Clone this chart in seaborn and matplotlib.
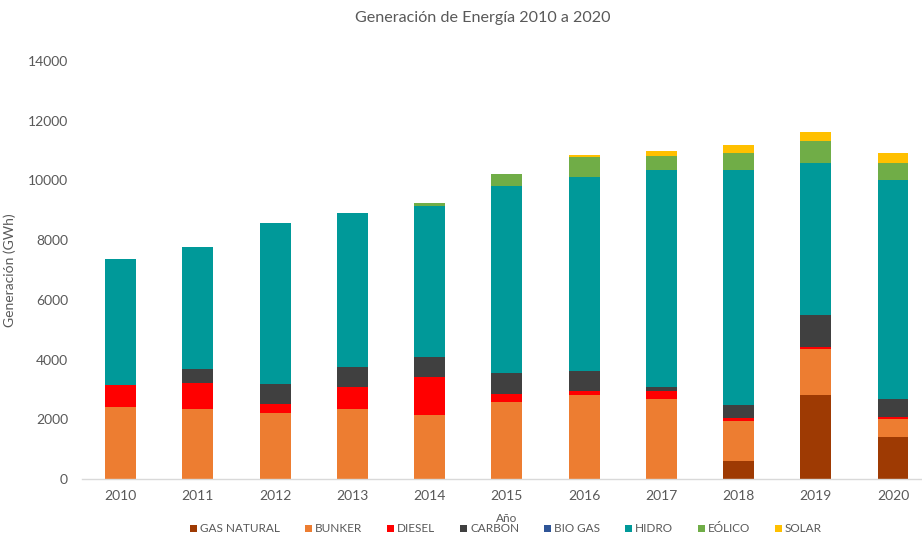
import matplotlib
matplotlib.use("Agg")
import matplotlib.pyplot as plt
import seaborn as sns
import numpy as np
import pandas as pd

years = ["2010", "2011", "2012", "2013", "2014", "2015", "2016", "2017", "2018", "2019", "2020"]
gas_natural = [0, 0, 0, 0, 0, 0, 0, 0, 610, 2800, 1400]
bunker = [2420, 2330, 2200, 2350, 2130, 2590, 2810, 2690, 1340, 1570, 600]
diesel = [730, 900, 310, 740, 1270, 260, 150, 270, 80, 60, 60]
carbon = [0, 450, 660, 650, 690, 690, 670, 130, 450, 1060, 610]
bio_gas = [0, 0, 0, 0, 0, 0, 0, 0, 0, 0, 0]
hidro = [4210, 4100, 5390, 5180, 5050, 6270, 6500, 7260, 7870, 5100, 7350]
eolico = [0, 0, 0, 0, 110, 420, 650, 470, 580, 720, 580]
solar = [0, 0, 0, 0, 0, 0, 70, 180, 250, 310, 330]

series_names = ["GAS NATURAL", "BUNKER", "DIESEL", "CARBON", "BIO GAS", "HIDRO", "EÓLICO", "SOLAR"]
series_values = [gas_natural, bunker, diesel, carbon, bio_gas, hidro, eolico, solar]
colors = ["#9E3A03", "#ED7D31", "#FF0000", "#404040", "#2F5597", "#009999", "#70AD47", "#FFC000"]

sns.set_theme(style="white")
plt.rcParams["font.family"] = ["Lato", "DejaVu Sans"]

fig = plt.figure(figsize=(9.22, 5.37), dpi=100)
ax = fig.add_axes([82 / 922, 1 - 479 / 537, 1 - 82 / 922, (479 - 61) / 537])

bottom = np.zeros(len(years))
for name, vals, col in zip(series_names, series_values, colors):
    df = pd.DataFrame({"Año": years, "v": vals})
    sns.barplot(data=df, x="Año", y="v", order=years, color=col, width=0.4,
                bottom=bottom.copy(), label=name, ax=ax, saturation=1,
                linewidth=0, errorbar=None)
    bottom += np.array(vals, dtype=float)

if ax.get_legend() is not None:
    ax.get_legend().remove()

ax.set_xlim(-0.5, 10.375)
ax.set_ylim(0, 14000)
ax.set_yticks(range(0, 14001, 2000))
ax.set_yticklabels([str(v) for v in range(0, 14001, 2000)])
for s in ["top", "right", "left"]:
    ax.spines[s].set_visible(False)
ax.spines["bottom"].set_color("#D9D9D9")
ax.spines["bottom"].set_linewidth(1)
ax.tick_params(axis="both", length=0, colors="#595959", labelsize=10)
ax.tick_params(axis="x", pad=8)
ax.tick_params(axis="y", pad=10)
ax.set_xlabel("")
ax.set_ylabel("Generación (GWh)", color="#595959", fontsize=10)
ax.yaxis.set_label_coords((16 - 82) / 840, 0.5)
ax.grid(False)

fig.text(483 / 922, 1 - 18 / 537, "Generación de Energía 2010 a 2020", ha="center", va="center",
         fontsize=11.6, color="#595959")
fig.text(507 / 922, 1 - 519 / 537, "Año", ha="center", va="center", fontsize=8.5, color="#595959")

handles, labels = ax.get_legend_handles_labels()
leg = fig.legend(handles, labels, loc="center", bbox_to_anchor=(506 / 922, 1 - 529 / 537), ncol=8,
                 frameon=False, handlelength=0.6, handleheight=0.6, handletextpad=0.25,
                 columnspacing=2.1, fontsize=8.5)
for t in leg.get_texts():
    t.set_color("#595959")

fig.savefig("out.png", dpi=100)
